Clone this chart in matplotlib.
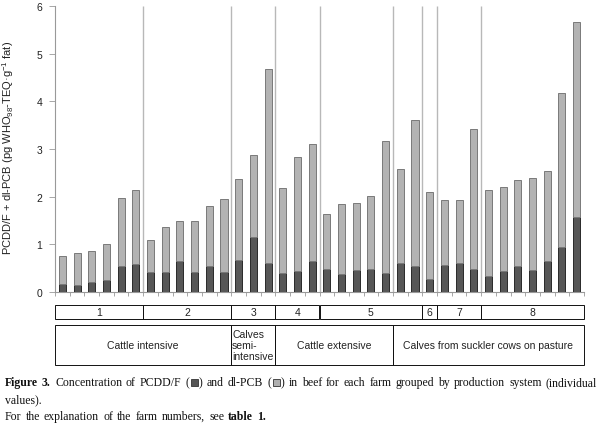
import numpy as np
import matplotlib
matplotlib.use('Agg')
import matplotlib.pyplot as plt
import matplotlib.transforms as mtransforms
from matplotlib.patches import Rectangle

plt.rcParams['font.family'] = ['Liberation Sans', 'DejaVu Sans']
plt.rcParams['mathtext.fontset'] = 'custom'
plt.rcParams['mathtext.rm'] = 'Liberation Sans'
plt.rcParams['mathtext.it'] = 'Liberation Sans:italic'

# values per animal (pg WHO-TEQ/g fat), left to right
pcdd = [0.17, 0.15, 0.22, 0.25, 0.55, 0.59,
        0.43, 0.43, 0.65, 0.42, 0.55, 0.41,
        0.67, 1.16, 0.61,
        0.39, 0.44, 0.66,
        0.49, 0.37, 0.46, 0.48, 0.40, 0.61, 0.54,
        0.27,
        0.56, 0.61, 0.48,
        0.33, 0.44, 0.55, 0.46, 0.64, 0.94, 1.58]
dlpcb = [0.58, 0.66, 0.64, 0.75, 1.43, 1.56,
         0.67, 0.93, 0.85, 1.08, 1.26, 1.55,
         1.70, 1.71, 4.06,
         1.80, 2.39, 2.44,
         1.15, 1.48, 1.41, 1.53, 2.76, 1.97, 3.06,
         1.83,
         1.38, 1.33, 2.94,
         1.81, 1.77, 1.79, 1.94, 1.89, 3.23, 4.09]

# number of bars between the grey separator lines
segments = [6, 6, 3, 3, 5, 2, 1, 3, 7]
farms = ['1', '2', '3', '4', '5', '6', '7', '8']
farm_sizes = [6, 6, 3, 3, 7, 1, 3, 7]
systems = ['Cattle intensive', 'Calves\nsemi-\nintensive',
           'Cattle extensive', 'Calves from suckler cows on pasture']
system_sizes = [12, 3, 8, 13]

W, H = 600, 427
fig = plt.figure(figsize=(6, 4.27), dpi=100)
ax = fig.add_axes([55 / W, 1 - 293 / H, 529 / W, 286 / H])

x = np.arange(len(pcdd))
ax.bar(x, pcdd, width=0.48, color='#575757', edgecolor='#2a2a2a', lw=0.7, zorder=3)
ax.bar(x, dlpcb, width=0.48, bottom=pcdd, color='#b3b3b3', edgecolor='#7a7a7a',
       lw=0.7, zorder=3)

seps = np.cumsum(segments)[:-1] - 0.5
ax.vlines(seps, 0, 6, color='#b8b8b8', lw=1.0, zorder=1)

ax.set_xlim(-0.5, len(pcdd) - 0.5)
ax.set_ylim(0, 6)
ax.set_yticks(range(7))
ax.set_xticks(np.arange(-0.5, len(pcdd), 1))
ax.set_xticklabels([])
ax.tick_params(axis='x', length=3, width=0.6, color='#999999')
ax.tick_params(axis='y', length=4, width=0.6, color='#999999', labelsize=7.5,
               labelcolor='#222222', pad=5)
for s in ['top', 'right']:
    ax.spines[s].set_visible(False)
for s in ['left', 'bottom']:
    ax.spines[s].set_color('#999999')
    ax.spines[s].set_linewidth(0.8)

fig.text(8 / W, 1 - 148 / H, 'PCDD/F + dl-PCB (pg WHO$_{98}$-TEQ·g$^{-1}$ fat)',
         rotation=90, ha='center', va='center', fontsize=8, color='#222222')

# table under the chart
blend = mtransforms.blended_transform_factory(ax.transData, fig.transFigure)


def table_row(labels, sizes, top, bottom, left_text=False):
    y0 = 1 - bottom / H
    h = (bottom - top) / H
    start = -0.5
    for lab, n in zip(labels, sizes):
        fig.add_artist(Rectangle((start, y0), n, h, transform=blend, fill=False,
                                 ec='#111111', lw=0.7))
        if left_text and '\n' in lab:
            fig.text(start + 0.05, y0 + h / 2, lab, transform=blend, ha='left',
                     va='center', fontsize=7.5, linespacing=1.15, color='#222222')
        else:
            fig.text(start + n / 2, y0 + h / 2, lab, transform=blend, ha='center',
                     va='center', fontsize=7.5, color='#222222')
        start += n


table_row(farms, farm_sizes, 306, 319.5)
table_row(systems, system_sizes, 326, 366, left_text=True)

# caption
r = fig.canvas.get_renderer()
ident = mtransforms.IdentityTransform()
cap = dict(family='Liberation Serif', size=8.5, color='#111111')


def wid(part):
    if part[0] == 'SQ':
        return 10
    t = fig.text(0, 0, part[0], weight=part[1], transform=ident, **cap)
    w = t.get_window_extent(r).width
    t.remove()
    return w


def draw_word(xc, yb, word):
    for part in word:
        if part[0] == 'SQ':
            fig.add_artist(Rectangle((round(xc) + 1.5, yb - 0.5), 7, 7, transform=ident,
                                     fc=part[1], ec='#333333', lw=0.6))
            xc += 10
        else:
            fig.text(round(xc), yb, part[0], weight=part[1], transform=ident,
                     va='baseline', **cap)
            xc += wid(part)
    return xc


def line(words, yb, x0=5, x1=None):
    widths = [sum(wid(p) for p in w) for w in words]
    if x1 is None:
        gap = 2.6
    else:
        gap = (x1 - x0 - sum(widths)) / (len(words) - 1)
    xc = x0
    for w, ww in zip(words, widths):
        draw_word(xc, yb, w)
        xc += ww + gap


def plain(text, weight='normal'):
    return [[(w, weight)] for w in text.split()]


line1 = (plain('Figure 3.', 'bold') + plain('Concentration of PCDD/F')
         + [[('(', 'normal'), ('SQ', '#555555'), (')', 'normal')]]
         + plain('and dl-PCB')
         + [[('(', 'normal'), ('SQ', '#b0b0b0'), (')', 'normal')]]
         + plain('in beef for each farm grouped by production system (individual'))
line(line1, H - 386, 5, 597)
line(plain('values).'), H - 403)
line(plain('For the explanation of the farm numbers, see') + plain('table 1.', 'bold'),
     H - 420, 5, 266)

fig.savefig('out.png', dpi=100)
